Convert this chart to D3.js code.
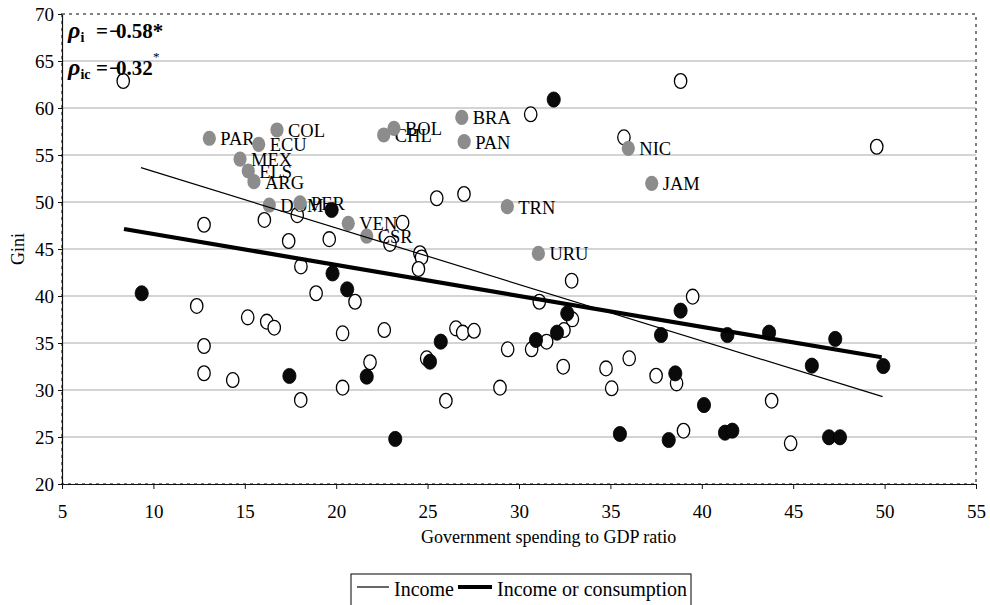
<!DOCTYPE html>
<html><head><meta charset="utf-8">
<script src="https://cdn.jsdelivr.net/npm/d3@7"></script>
<style>
body{margin:0;background:#fff;}
svg{display:block;}
svg text{font-family:"Liberation Serif","Times New Roman","DejaVu Serif","Noto Serif",serif;}
</style>
</head><body>
<svg id="chart" width="990" height="605"></svg>
<script>
// ---- data ----
const xTicks = [5,10,15,20,25,30,35,40,45,50,55];
const yTicks = [20,25,30,35,40,45,50,55,60,65,70];

// Income (open circles)
const incomeX = [8.35,12.77,16.07,17.87,17.40,18.07,19.62,22.94,23.63,24.58,24.67,24.50,25.50,26.99,30.64,38.84,35.74,49.57,18.90,12.37,15.16,16.20,16.61,20.35,12.77,12.77,14.34,18.06,20.35,21.03,22.63,21.85,26.00,24.95,26.55,26.92,27.54,28.96,29.38,30.69,31.51,31.11,32.88,32.92,32.46,32.42,34.76,35.07,36.03,39.50,37.50,38.62,43.82,39.00,44.86];
const incomeY = [62.87,47.58,48.09,48.60,45.85,43.15,46.05,45.55,47.80,44.55,44.10,42.87,50.40,50.85,59.33,62.87,56.88,55.88,40.29,38.94,37.73,37.27,36.63,36.03,34.68,31.78,31.06,28.94,30.25,39.39,36.38,32.95,28.86,33.37,36.56,36.10,36.30,30.25,34.33,34.33,35.14,39.39,41.63,37.52,36.38,32.48,32.30,30.18,33.37,39.93,31.52,30.71,28.86,25.67,24.33];

// Income or consumption (filled black circles)
const consX = [9.36,19.75,19.80,20.60,17.44,21.67,23.23,25.13,25.72,30.93,32.64,32.08,31.90,35.52,38.84,37.77,41.40,43.68,47.30,46.02,49.93,38.55,40.12,38.19,41.27,41.67,46.96,47.56];
const consY = [40.29,49.15,42.40,40.71,31.49,31.42,24.79,33.01,35.14,35.32,38.16,36.10,60.90,25.32,38.44,35.85,35.85,36.10,35.43,32.59,32.55,31.77,28.40,24.68,25.46,25.67,24.97,24.97];

// Labelled countries (grey circles)
const countryNames = ["PAR","COL","ECU","MEX","ELS","ARG","DOM","PER","VEN","CSR","CHL","BOL","BRA","PAN","TRN","URU","NIC","JAM"];
const countryX = [13.06,16.76,15.76,14.74,15.19,15.50,16.34,18.02,20.66,21.67,22.60,23.16,26.87,27.00,29.36,31.06,35.98,37.26];
const countryY = [56.78,57.66,56.14,54.57,53.30,52.16,49.68,49.90,47.73,46.38,57.13,57.84,59.00,56.42,49.50,44.54,55.71,51.99];

// Trend lines (end points)
const trendIncomeX = [9.32,49.89];
const trendIncomeY = [53.65,29.29];
const trendConsX = [8.39,49.84];
const trendConsY = [47.13,33.48];

const legendLabels = ["Income","Income or consumption"];
const xTitle = "Government spending to GDP ratio";
const yTitle = "Gini";
const rhoNames = ["i","ic"];
const rhoValues = ["−0.58*","−0.32"];

// ---- drawing ----
const svg = d3.select("#chart");
const x = d3.scaleLinear().domain([5,55]).range([62,976]);
const y = d3.scaleLinear().domain([20,70]).range([484,14]);

// gridlines
svg.append("g").selectAll("line")
  .data(yTicks.filter(v => v > 20 && v < 70)).join("line")
  .attr("x1", x(5)).attr("x2", x(55))
  .attr("y1", d => y(d)).attr("y2", d => y(d))
  .attr("stroke", "#c6c6c6").attr("stroke-width", 1.5);

// dashed plot-area border
svg.append("rect")
  .attr("x", x(5)).attr("y", y(70))
  .attr("width", x(55) - x(5)).attr("height", y(20) - y(70))
  .attr("fill", "none").attr("stroke", "#808080")
  .attr("stroke-width", 2).attr("stroke-dasharray", "3,4");

// axes
const yAxis = d3.axisLeft(y).tickValues(yTicks).tickSizeInner(4).tickSizeOuter(0).tickPadding(4).tickFormat(d3.format("d"));
const gy = svg.append("g").attr("transform", `translate(${x(5)},0)`).call(yAxis);
const xAxis = d3.axisBottom(x).tickValues(xTicks).tickSizeInner(5).tickSizeOuter(0).tickPadding(16).tickFormat(d3.format("d"));
const gx = svg.append("g").attr("transform", `translate(0,${y(20)})`).call(xAxis);
[gx, gy].forEach(g => {
  g.attr("font-family", null);
  g.selectAll("text").attr("font-size", 19).attr("fill", "#000");
  g.select(".domain").attr("stroke", "#111").attr("stroke-width", 1.2);
  g.selectAll(".tick line").attr("stroke", "#111");
});

// axis titles
svg.append("text").attr("x", 421).attr("y", 543)
  .attr("font-size", 18).text(xTitle);
svg.append("text").attr("transform", `translate(24,${(y(20)+y(70))/2}) rotate(-90)`)
  .attr("text-anchor", "middle").attr("font-size", 18).text(yTitle);

// income (open) markers
svg.append("g").selectAll("ellipse")
  .data(incomeX.map((v, i) => [v, incomeY[i]])).join("ellipse")
  .attr("cx", d => x(d[0])).attr("cy", d => y(d[1]))
  .attr("rx", 6.2).attr("ry", 7.4)
  .attr("fill", "#fff").attr("stroke", "#000").attr("stroke-width", 1.3);

// grey labelled countries
const cg = svg.append("g");
countryNames.forEach((n, i) => {
  cg.append("ellipse").attr("cx", x(countryX[i])).attr("cy", y(countryY[i]))
    .attr("rx", 6.6).attr("ry", 7.6).attr("fill", "#8c8c8c");
  cg.append("text").attr("x", x(countryX[i]) + 11).attr("y", y(countryY[i]) + 7)
    .attr("font-size", 18.5).attr("fill", "#000").text(n);
});

// income or consumption (filled) markers
svg.append("g").selectAll("ellipse")
  .data(consX.map((v, i) => [v, consY[i]])).join("ellipse")
  .attr("cx", d => x(d[0])).attr("cy", d => y(d[1]))
  .attr("rx", 6.6).attr("ry", 7.6)
  .attr("fill", "#0a0a0a").attr("stroke", "#000").attr("stroke-width", 0.8);

// trend lines
const line = d3.line().x(d => x(d[0])).y(d => y(d[1]));
svg.append("path").datum(trendIncomeX.map((v, i) => [v, trendIncomeY[i]]))
  .attr("d", line).attr("fill", "none").attr("stroke", "#000").attr("stroke-width", 1.2);
svg.append("path").datum(trendConsX.map((v, i) => [v, trendConsY[i]]))
  .attr("d", line).attr("fill", "none").attr("stroke", "#000").attr("stroke-width", 4.2);

// correlation annotation
const ann = svg.append("g").attr("font-weight", "bold").attr("font-size", 21);
[38, 75].forEach((by, i) => {
  const t = ann.append("text").attr("x", 68).attr("y", by);
  t.append("tspan").attr("font-style", "italic").attr("font-size", 24).text("ρ");
  t.append("tspan").attr("font-size", 14).attr("dy", 4).text(rhoNames[i]);
  t.append("tspan").attr("x", 96).attr("dy", -4).text("=");
  t.append("tspan").attr("dx", 1).text(rhoValues[i].slice(0, 1));
  t.append("tspan").attr("dx", -5).text(rhoValues[i].slice(1));
});
ann.append("text").attr("x", 153).attr("y", 61).attr("font-size", 13).attr("font-weight", "normal").text("*");

// legend
const lg = svg.append("g");
lg.append("rect").attr("x", 351).attr("y", 574).attr("width", 340).attr("height", 40)
  .attr("fill", "#fff").attr("stroke", "#000").attr("stroke-width", 1);
lg.append("line").attr("x1", 357).attr("x2", 389).attr("y1", 587).attr("y2", 587)
  .attr("stroke", "#000").attr("stroke-width", 1.2);
lg.append("text").attr("x", 394).attr("y", 596).attr("font-size", 20).text(legendLabels[0]);
lg.append("line").attr("x1", 458).attr("x2", 492).attr("y1", 587).attr("y2", 587)
  .attr("stroke", "#000").attr("stroke-width", 4.2);
lg.append("text").attr("x", 497).attr("y", 596).attr("font-size", 20).text(legendLabels[1]);
</script>
</body></html>
